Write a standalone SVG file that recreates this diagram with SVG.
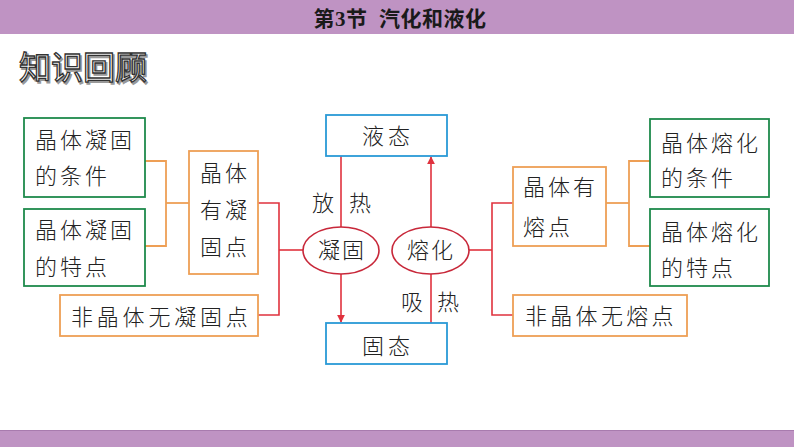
<svg xmlns="http://www.w3.org/2000/svg" width="794" height="447" viewBox="0 0 794 447">
<style>
.t{font-family:"Noto Sans CJK SC","Noto Sans",sans-serif;font-size:22px;font-weight:300;fill:#222;letter-spacing:3px}
.g{fill:#fff;stroke:#1E8A4C;stroke-width:1.8}
.o{fill:#fff;stroke:#EE9F55;stroke-width:1.8}
.b{fill:#fff;stroke:#2A9AD6;stroke-width:1.8}
.e{fill:#fff;stroke:#C8283A;stroke-width:1.6}
.lr{fill:none;stroke:#E0323E;stroke-width:1.6}
.lo{fill:none;stroke:#EE9F55;stroke-width:1.8}
</style>
<defs>
<marker id="ar" viewBox="0 0 10 10" refX="9" refY="5" markerWidth="8" markerHeight="8" orient="auto" markerUnits="userSpaceOnUse">
<path d="M0,0 L10,5 L0,10 z" fill="#E0323E"/>
</marker>
</defs>
<rect x="0" y="0" width="794" height="447" fill="#fff"/>
<rect x="0" y="0" width="794" height="34" fill="#BF93C3"/>
<text x="400" y="26" text-anchor="middle" xml:space="preserve" font-family="'Liberation Serif','Noto Sans CJK SC',serif" font-size="21" font-weight="bold" fill="#1a1a1a" letter-spacing="0.5">第3节  汽化和液化</text>
<rect x="0" y="430" width="794" height="17" fill="#BF93C3"/>
<line x1="0" y1="430.5" x2="794" y2="430.5" stroke="#A87BAE" stroke-width="1"/>
<text x="19" y="79" font-family="'Noto Sans CJK SC',sans-serif" font-size="32" fill="#999" stroke="#999" stroke-width="1.5" transform="translate(1.5,1.5)">知识回顾</text>
<text x="19" y="79" font-family="'Noto Sans CJK SC',sans-serif" font-size="32" fill="#fff" stroke="#333" stroke-width="1.3">知识回顾</text>

<g id="connectors">
<polyline class="lo" points="145,161 166,161 166,246 145,246"/>
<line class="lo" x1="166" y1="203" x2="189" y2="203"/>
<polyline class="lr" points="258,203 279,203 279,315 258,315"/>
<line class="lr" x1="279" y1="250" x2="303" y2="250"/>
<line class="lr" x1="341" y1="156" x2="341" y2="227"/>
<line class="lr" x1="341" y1="274" x2="341" y2="322" marker-end="url(#ar)"/>
<line class="lr" x1="431" y1="323" x2="431" y2="274"/>
<line class="lr" x1="431" y1="227" x2="431" y2="157" marker-end="url(#ar)"/>
<line class="lr" x1="469" y1="250" x2="492" y2="250"/>
<polyline class="lr" points="513,203 492,203 492,315 513,315"/>
<polyline class="lo" points="650,161 629,161 629,246 650,246"/>
<line class="lo" x1="606" y1="203" x2="629" y2="203"/>
</g>

<g id="n-left-cond"><rect class="g" x="24" y="118" width="121" height="79"/><text class="t" x="35" y="148">晶体凝固</text><text class="t" x="35" y="184">的条件</text></g>
<g id="n-left-feat"><rect class="g" x="24" y="209" width="121" height="77"/><text class="t" x="35" y="238">晶体凝固</text><text class="t" x="35" y="275">的特点</text></g>
<g id="n-left-has"><rect class="o" x="189" y="151" width="69" height="123"/><text class="t" x="200" y="181">晶体</text><text class="t" x="200" y="218">有凝</text><text class="t" x="200" y="255">固点</text></g>
<g id="n-left-non"><rect class="o" x="60" y="295" width="198" height="41"/><text class="t" x="71" y="325" style="letter-spacing:3.8px">非晶体无凝固点</text></g>

<g id="n-liquid"><rect class="b" x="326" y="115" width="121" height="41"/><text class="t" x="388" y="144" text-anchor="middle" style="letter-spacing:4px">液态</text></g>
<g id="n-solid"><rect class="b" x="326" y="323" width="121" height="41"/><text class="t" x="388" y="354" text-anchor="middle" style="letter-spacing:4px">固态</text></g>
<g id="n-solidify"><ellipse class="e" cx="341" cy="250.5" rx="38" ry="23.5"/><text class="t" x="342" y="258" text-anchor="middle" style="letter-spacing:2px">凝固</text></g>
<g id="n-melt"><ellipse class="e" cx="430.5" cy="250.5" rx="38.5" ry="23.5"/><text class="t" x="431" y="258" text-anchor="middle" style="letter-spacing:2px">熔化</text></g>
<g id="labels">
<text class="t" x="323" y="211" text-anchor="middle" style="letter-spacing:0">放</text>
<text class="t" x="360" y="211" text-anchor="middle" style="letter-spacing:0">热</text>
<text class="t" x="412" y="310" text-anchor="middle" style="letter-spacing:0">吸</text>
<text class="t" x="448" y="310" text-anchor="middle" style="letter-spacing:0">热</text>
</g>

<g id="n-right-has"><rect class="o" x="513" y="167" width="93" height="79"/><text class="t" x="523" y="195">晶体有</text><text class="t" x="523" y="235">熔点</text></g>
<g id="n-right-non"><rect class="o" x="513" y="295" width="174" height="41"/><text class="t" x="525" y="324" style="letter-spacing:3.3px">非晶体无熔点</text></g>
<g id="n-right-cond"><rect class="g" x="650" y="119" width="119" height="78"/><text class="t" x="661" y="151">晶体熔化</text><text class="t" x="661" y="186">的条件</text></g>
<g id="n-right-feat"><rect class="g" x="650" y="209" width="119" height="77"/><text class="t" x="661" y="240">晶体熔化</text><text class="t" x="661" y="276">的特点</text></g>
</svg>
